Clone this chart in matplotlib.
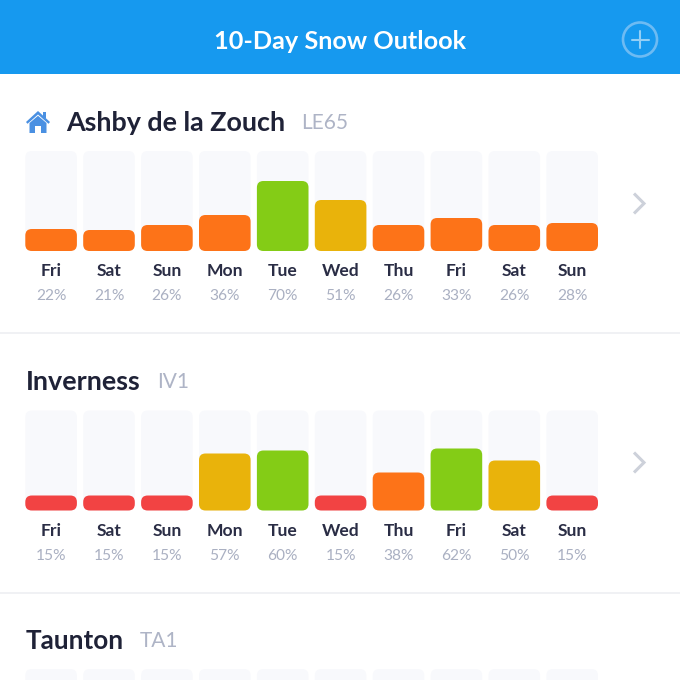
import matplotlib
matplotlib.use("Agg")
import matplotlib.pyplot as plt
from matplotlib.patches import FancyBboxPatch, Circle, Polygon, Rectangle

plt.rcParams['font.family'] = ['Lato', 'DejaVu Sans']

TITLE = "10-Day Snow Outlook"
days = ["Fri", "Sat", "Sun", "Mon", "Tue", "Wed", "Thu", "Fri", "Sat", "Sun"]
ashby_values = [22, 21, 26, 36, 70, 51, 26, 33, 26, 28]
inverness_values = [15, 15, 15, 57, 60, 15, 38, 62, 50, 15]
ashby_colors = ["o", "o", "o", "o", "g", "y", "o", "o", "o", "o"]
inverness_colors = ["r", "r", "r", "y", "g", "r", "o", "g", "y", "r"]
palette = {"r": "#F24343", "o": "#FD7318", "y": "#E9B30B", "g": "#84CC16"}

W = H = 680
fig = plt.figure(figsize=(6.8, 6.8), dpi=100, facecolor="white")

# overlay in pixel coordinates for the app chrome
bg = fig.add_axes([0, 0, 1, 1])
bg.set_xlim(0, W); bg.set_ylim(H, 0); bg.axis("off")
bg.add_patch(Rectangle((0, 0), W, 74, color="#1699EF", lw=0))
bg.text(340.5, 41.5, TITLE, color="white", fontsize=18.2, fontweight="bold", ha="center", va="center")
bg.add_patch(Circle((640, 39.5), 17, fill=False, ec="#6DBBF3", lw=1.9))
bg.plot([640, 640], [31, 48], color="#93CFF6", lw=1.5, solid_capstyle="round")
bg.plot([631.5, 648.5], [39.5, 39.5], color="#93CFF6", lw=1.5, solid_capstyle="round")
for y in (332.5, 592.5):
    bg.plot([0, W], [y, y], color="#F0F1F4", lw=1.4)

# house icon
bg.add_patch(Polygon([(26, 122), (38, 111), (50, 122), (48.5, 123.8), (38, 114.5), (27.5, 123.8)],
                     color="#4A90E2", lw=0))
bg.add_patch(Polygon([(29.5, 123), (38, 115.8), (46.5, 123), (46.5, 133), (41, 133), (41, 126), (35, 126),
                      (35, 133), (29.5, 133)], color="#4A90E2", lw=0))
bg.add_patch(Rectangle((43, 112), 3, 6, color="#4A90E2", lw=0))

# row headings
bg.text(66.5, 123, "Ashby de la Zouch", color="#1F2237", fontsize=19.4, fontweight="bold", ha="left", va="center")
bg.text(301.5, 123, "LE65", color="#AEB4C6", fontsize=15, ha="left", va="center")
bg.text(25.5, 382, "Inverness", color="#1F2237", fontsize=19.4, fontweight="bold", ha="left", va="center")
bg.text(157, 382, "IV1", color="#AEB4C6", fontsize=15, ha="left", va="center")
bg.text(25.5, 641, "Taunton", color="#1F2237", fontsize=18.8, fontweight="bold", ha="left", va="center")
bg.text(140, 641, "TA1", color="#AEB4C6", fontsize=15, ha="left", va="center")

# chevrons
for yc in (203.5, 462.5):
    bg.plot([634, 644, 634], [yc - 10, yc, yc + 10], color="#CDD1DA", lw=2.2,
            solid_joinstyle="miter", solid_capstyle="butt")

PITCH = 57.9
LEFT = 25.3
BW = 51.6


def rounded(ax, i, v, color):
    r = 6.5 / PITCH
    ax.add_patch(FancyBboxPatch((i - BW / PITCH / 2, 0), BW / PITCH, v,
                                boxstyle=f"round,pad=0,rounding_size={r}",
                                mutation_aspect=PITCH, fc=color, ec="none", lw=0, clip_on=False))


def row(top, values, colors, with_labels=True):
    # one y unit = one pixel, one x unit = one day
    x0 = LEFT + BW / 2 - PITCH / 2
    ax = fig.add_axes([x0 / W, 1 - (top + 100) / H, PITCH * 10 / W, 100 / H])
    ax.set_xlim(-0.5, 9.5); ax.set_ylim(0, 100); ax.axis("off"); ax.patch.set_alpha(0)
    for i in range(10):
        rounded(ax, i, 100, "#F8F9FC")
        if values:
            rounded(ax, i, values[i], palette[colors[i]])
    if with_labels:
        for i in range(10):
            ax.text(i, -20, days[i], color="#2A2D45", fontsize=12.6, fontweight="bold", ha="center", va="center")
            ax.text(i, -45, f"{values[i]}%", color="#AAB0C2", fontsize=11.2, ha="center", va="center")


row(151, ashby_values, ashby_colors)
row(410.5, inverness_values, inverness_colors)
row(669, None, None, with_labels=False)

fig.savefig("out.png", dpi=100, facecolor="white")
